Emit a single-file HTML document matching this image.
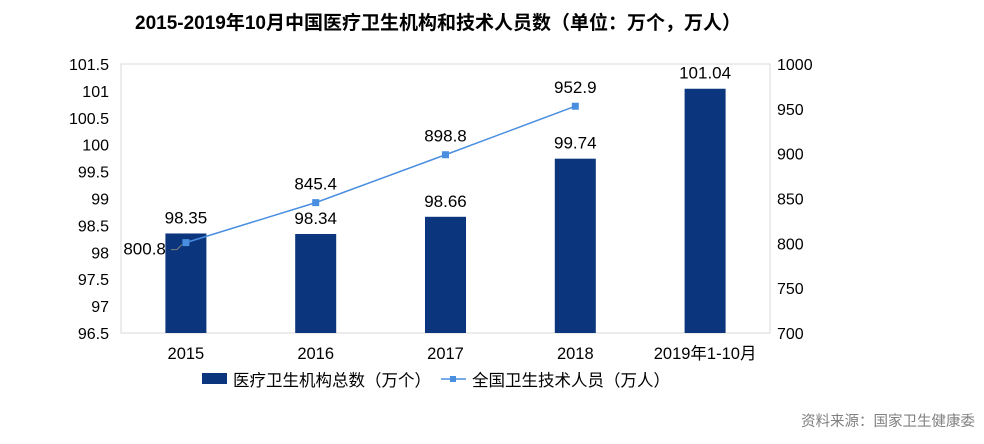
<!DOCTYPE html>
<html><head><meta charset="utf-8"><style>
html,body{margin:0;padding:0;background:#fff;}
svg{display:block;font-family:"Liberation Sans","Noto Sans CJK SC",sans-serif;}
</style></head><body>
<svg id="chart" width="984" height="444" viewBox="0 0 984 444">
<text x="438" y="29" text-anchor="middle" font-size="19" font-weight="bold" fill="#000">2015-2019年10月中国医疗卫生机构和技术人员数（单位：万个，万人）</text>
<rect x="121" y="64" width="649" height="269" fill="none" stroke="#d9d9d9" stroke-width="1"/>
<g id="ly"></g>
<g id="ry"></g>
<g id="xa"></g>
<g id="bars"></g>
<g id="line"></g>
<g>
<rect x="202" y="373" width="25" height="11" fill="#0b357c"/>
<text x="233" y="386" font-size="16.5" fill="#000">医疗卫生机构总数（万个）</text>
<line x1="441" y1="379" x2="466" y2="379" stroke="#4a8ee0" stroke-width="1.5"/>
<rect x="450" y="376" width="6" height="6" fill="#4a8ee0"/>
<text x="472" y="386" font-size="16.5" fill="#000">全国卫生技术人员（万人）</text>
</g>
<text x="975" y="426" text-anchor="end" font-size="14.5" fill="#808080">资料来源：国家卫生健康委</text>
</svg>
<script>
const categories=["2015","2016","2017","2018","2019年1-10月"];
const barValues=[98.35,98.34,98.66,99.74,101.04];
const lineValues=[800.8,845.4,898.8,952.9];
const leftTicks=[96.5,97,97.5,98,98.5,99,99.5,100,100.5,101,101.5];
const rightTicks=[700,750,800,850,900,950,1000];
const NS="http://www.w3.org/2000/svg";
const X0=121,X1=770,YT=64,YB=333;
const bw=(X1-X0)/categories.length;
const xc=i=>X0+bw*(i+0.5);
const yl=v=>YB-(v-96.5)/(101.5-96.5)*(YB-YT);
const yr=v=>YB-(v-700)/(1000-700)*(YB-YT);
function mk(tag,attrs,parent,text){const e=document.createElementNS(NS,tag);for(const k in attrs)e.setAttribute(k,attrs[k]);if(text!==undefined)e.textContent=text;parent.appendChild(e);return e;}
const ly=document.getElementById('ly'),ry=document.getElementById('ry'),xa=document.getElementById('xa'),bars=document.getElementById('bars'),line=document.getElementById('line');
leftTicks.forEach(v=>{const t=mk('text',{x:109,y:yl(v)+6,'text-anchor':'end','font-size':16,fill:'#000'},ly,String(v));

});
rightTicks.forEach(v=>{const t=mk('text',{x:777,y:yr(v)+6,'font-size':16,fill:'#000'},ry,String(v));

});
categories.forEach((c,i)=>{const t=mk('text',{x:xc(i),y:359,'text-anchor':'middle','font-size':16.5,fill:'#000'},xa,c);

});
barValues.forEach((v,i)=>{const r=mk('rect',{x:xc(i)-20.5,y:yl(v),width:41,height:YB-yl(v),fill:'#0b357c'},bars);


const t=mk('text',{x:xc(i),y:yl(v)-10,'text-anchor':'middle','font-size':17,fill:'#000'},bars,v.toFixed(2));

});
const pts=lineValues.map((v,i)=>[xc(i),yr(v)]);
const pl=mk('polyline',{points:pts.map(p=>p.join(',')).join(' '),fill:'none',stroke:'#4a8ee0','stroke-width':1.5},line);


lineValues.forEach((v,i)=>{const p=pts[i];
const m=mk('rect',{x:p[0]-3.5,y:p[1]-3.5,width:7,height:7,fill:'#4a8ee0'},line);


let lx=p[0],ly2=p[1]-13,anchor='middle';
if(i===0){lx=p[0]-20;ly2=p[1]+12;anchor='end';
const ll=mk('polyline',{points:`${p[0]-15},${p[1]+7} ${p[0]-9},${p[1]+7} ${p[0]-4},${p[1]+2}`,fill:'none',stroke:'#808080','stroke-width':1},line);

}
const t=mk('text',{x:lx,y:ly2,'text-anchor':anchor,'font-size':17,fill:'#000'},line,v.toFixed(1));

});
</script>
</body></html>
